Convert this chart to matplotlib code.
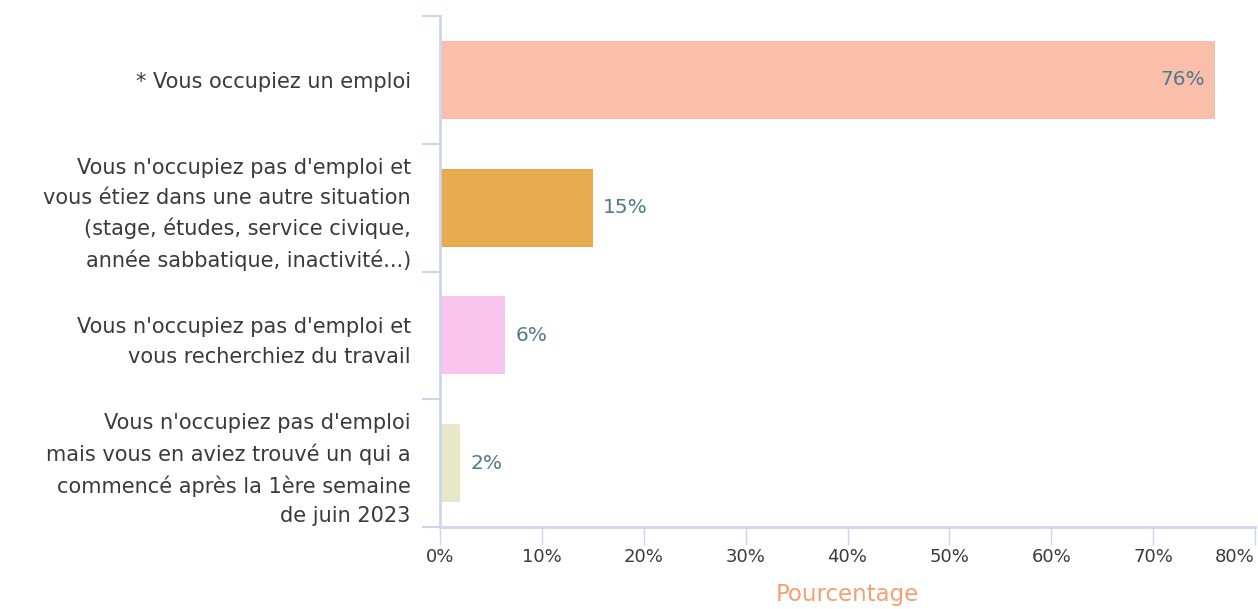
import matplotlib.pyplot as plt
from matplotlib.ticker import FuncFormatter, FixedLocator

# -------------------------
# Data
# -------------------------
categories = [
    "* Vous occupiez un emploi",
    "Vous n'occupiez pas d'emploi et\nvous étiez dans une autre situation\n(stage, études, service civique,\nannée sabbatique, inactivité...)",
    "Vous n'occupiez pas d'emploi et\nvous recherchiez du travail",
    "Vous n'occupiez pas d'emploi\nmais vous en aviez trouvé un qui a\ncommencé après la 1ère semaine\nde juin 2023",
]
values = [76.1, 15.0, 6.4, 2.0]
value_labels = ["76%", "15%", "6%", "2%"]
colors = ["#f9bfab", "#e6ac4f", "#f9c5ee", "#e8e8c8"]

plt.rcParams["font.family"] = ["DejaVu Sans"]

axis_col = "#cdd6ee"
text_col = "#3a3a3a"
label_col = "#4f7a8a"

fig = plt.figure(figsize=(12.58, 6.09), dpi=100)
ax = fig.add_axes([440 / 1258, 82 / 609, 815 / 1258, 511 / 609])

y = list(range(len(categories)))
ax.barh(y, values, height=0.61, color=colors)

ax.set_xlim(0, 80)
ax.set_ylim(len(categories) - 0.5, -0.5)

# value labels
for i, (v, lab) in enumerate(zip(values, value_labels)):
    if v > 50:
        ax.text(v - 1.0, i, lab, ha="right", va="center", color=label_col, fontsize=14.5)
    else:
        ax.text(v + 1.0, i, lab, ha="left", va="center", color=label_col, fontsize=14.5)

# y axis: labels at centres, ticks at boundaries
ax.set_yticks(y)
ax.set_yticklabels(categories, fontsize=15, color=text_col, linespacing=1.58)
ax.tick_params(axis="y", which="major", length=0, pad=21)
ax.yaxis.set_minor_locator(FixedLocator([i - 0.5 for i in range(len(categories) + 1)]))
ax.tick_params(axis="y", which="minor", length=13, width=1.5, color=axis_col)

# x axis
ax.set_xticks(range(0, 81, 10))
ax.xaxis.set_major_formatter(FuncFormatter(lambda x, p: f"{int(x)}%"))
ax.tick_params(axis="x", length=13, width=1, color=axis_col, labelsize=13,
               labelcolor=text_col, pad=2)
ax.get_xticklabels()[-1].set_horizontalalignment("right")
ax.set_xlabel("Pourcentage", color="#f4a070", fontsize=16.5, labelpad=12)

for s in ["top", "right"]:
    ax.spines[s].set_visible(False)
for s in ["left", "bottom"]:
    ax.spines[s].set_color(axis_col)
    ax.spines[s].set_linewidth(2)

plt.savefig("out.png", dpi=100)
